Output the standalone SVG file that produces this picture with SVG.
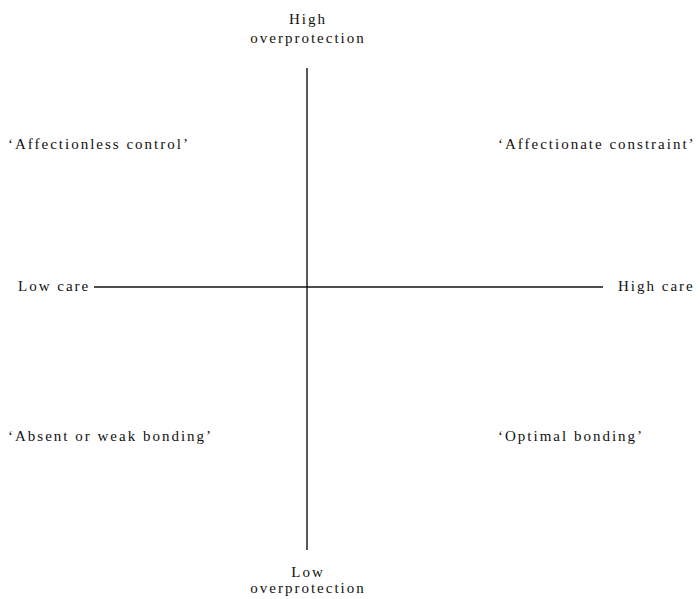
<svg xmlns="http://www.w3.org/2000/svg" width="700" height="599" viewBox="0 0 700 599">
<style>
text{font-family:"Liberation Serif","Times New Roman",serif;font-size:15px;fill:#111;letter-spacing:2px}
.c{text-anchor:middle}
.ax{stroke:#111;stroke-width:1.4;fill:none}
</style>
<rect width="700" height="599" fill="#fff"/>
<g id="connectors">
<line class="ax" x1="307" y1="68" x2="307" y2="550"/>
<line class="ax" x1="94" y1="287" x2="603" y2="287"/>
</g>
<g id="high-overprotection"><text class="c" x="308" y="24">High</text><text class="c" x="308" y="43">overprotection</text></g>
<g id="low-overprotection"><text class="c" x="308" y="577">Low</text><text class="c" x="308" y="593">overprotection</text></g>
<g id="low-care"><text x="18" y="291">Low care</text></g>
<g id="high-care"><text x="618" y="291">High care</text></g>
<g id="affectionless-control"><text x="8" y="149">‘Affectionless control’</text></g>
<g id="affectionate-constraint"><text x="498" y="149">‘Affectionate constraint’</text></g>
<g id="absent-weak-bonding"><text x="8" y="441">‘Absent or weak bonding’</text></g>
<g id="optimal-bonding"><text x="498" y="441">‘Optimal bonding’</text></g>
</svg>
